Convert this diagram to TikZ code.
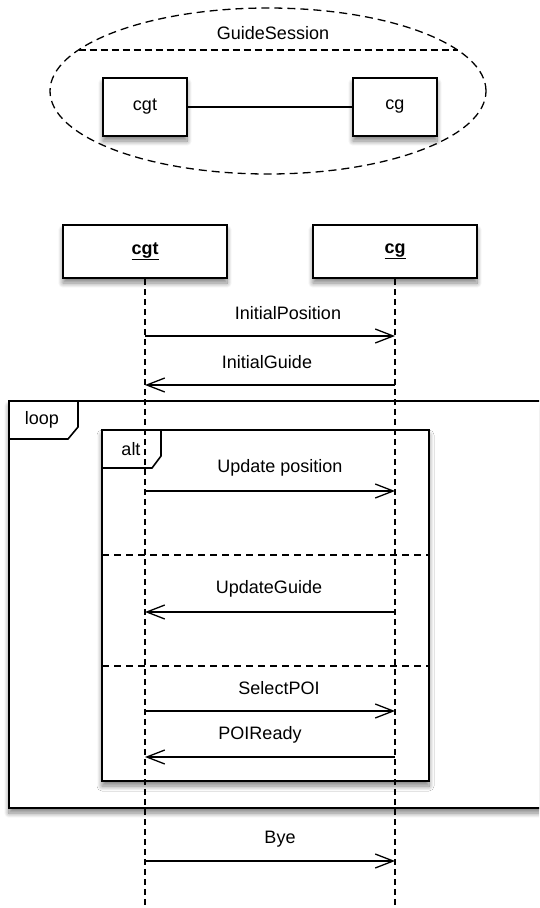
\documentclass[tikz,border=0pt]{standalone}
\usepackage{fontspec}
\setmainfont{Liberation Sans}
\usetikzlibrary{arrows.meta,shapes.geometric,shadows.blur}
\begin{document}
\begin{tikzpicture}[x=1pt,y=-1pt,
  every node/.style={font=\fontsize{18}{21}\selectfont, inner sep=0pt},
  shd/.style={blur shadow={shadow xshift=0pt, shadow yshift=-5pt, shadow blur steps=10, shadow blur radius=5pt, shadow opacity=50}},
  objbox/.style={draw, line width=1.8pt, fill=white, minimum width=84pt, minimum height=58pt, shd},
  headbox/.style={draw, line width=1.8pt, fill=white, minimum width=164pt, minimum height=53pt, shd},
  lifeline/.style={line width=1.3pt, dash pattern=on 6pt off 4pt},
  sep/.style={line width=1.3pt, dash pattern=on 7pt off 5pt},
  frame/.style={draw, line width=1.6pt, fill=white, shd},
  tab/.style={draw, line width=1.6pt, fill=white},
  msg/.style={line width=1.3pt, -{Straight Barb[length=18pt,width=14pt,line width=1.3pt]}}
]
\useasboundingbox (0,0) rectangle (539,908);
\clip (0,0) rectangle (539,908);

% ---- top collaboration ----
\node[ellipse, draw, line width=1.3pt, dash pattern=on 8pt off 5pt,
      minimum width=436pt, minimum height=166pt, outer sep=0pt] (gs) at (268,91) {};
\coordinate (chL) at (78.5,50);
\coordinate (chR) at (457.5,50);
\draw[line width=1.3pt, dash pattern=on 7pt off 4pt] (chL) -- (chR);
\node (gslabel) at (273,33) {GuideSession};
\node[objbox] (cgtA) at (145,107) {cgt};
\node[objbox] (cgA) at (395,107) {cg};
\draw[line width=1.3pt] (cgtA) -- (cgA);

% ---- frames ----
\path[frame] (9,401) rectangle (570,808);
\path[frame] (102,430) rectangle (429,781);
\draw[tab] (9,401) -- (78,401) -- (78,427) -- (68,439) -- (9,439) -- cycle;
\node (looplbl) at (42,420) {loop};
\draw[tab] (102,430) -- (161,430) -- (161,456) -- (152,468) -- (102,468) -- cycle;
\node (altlbl) at (131,449) {alt};
\coordinate (s1L) at (102,555);
\coordinate (s1R) at (429,555);
\coordinate (s2L) at (102,666);
\coordinate (s2R) at (429,666);
\draw[sep] (s1L) -- (s1R);
\draw[sep] (s2L) -- (s2R);

% ---- lifelines ----
\node[headbox] (cgtH) at (145,251.5) {\textbf{\underline{cgt}}};
\node[headbox] (cgH) at (395,251.5) {\textbf{\underline{cg}}};
\coordinate (cgtEnd) at (145,908);
\coordinate (cgEnd) at (395,908);
\draw[lifeline] (cgtH.south) -- (cgtEnd);
\draw[lifeline] (cgH.south) -- (cgEnd);

% ---- messages ----
\coordinate (a1) at (145,336); \coordinate (b1) at (395,336);
\coordinate (a2) at (145,385); \coordinate (b2) at (395,385);
\coordinate (a3) at (145,491); \coordinate (b3) at (395,491);
\coordinate (a4) at (145,612); \coordinate (b4) at (395,612);
\coordinate (a5) at (145,711); \coordinate (b5) at (395,711);
\coordinate (a6) at (145,757); \coordinate (b6) at (395,757);
\coordinate (a7) at (145,861); \coordinate (b7) at (395,861);

\draw[msg] (a1) -- (b1);
\node (l1) at (288,313) {InitialPosition};
\draw[msg] (b2) -- (a2);
\node (l2) at (267,362) {InitialGuide};
\draw[msg] (a3) -- (b3);
\node (l3) at (280,468) {Update position};
\draw[msg] (b4) -- (a4);
\node (l4) at (269,589) {UpdateGuide};
\draw[msg] (a5) -- (b5);
\node (l5) at (279,688) {SelectPOI};
\draw[msg] (b6) -- (a6);
\node (l6) at (260,735) {POIReady};
\draw[msg] (a7) -- (b7);
\node (l7) at (280,839) {Bye};
\end{tikzpicture}
\end{document}
